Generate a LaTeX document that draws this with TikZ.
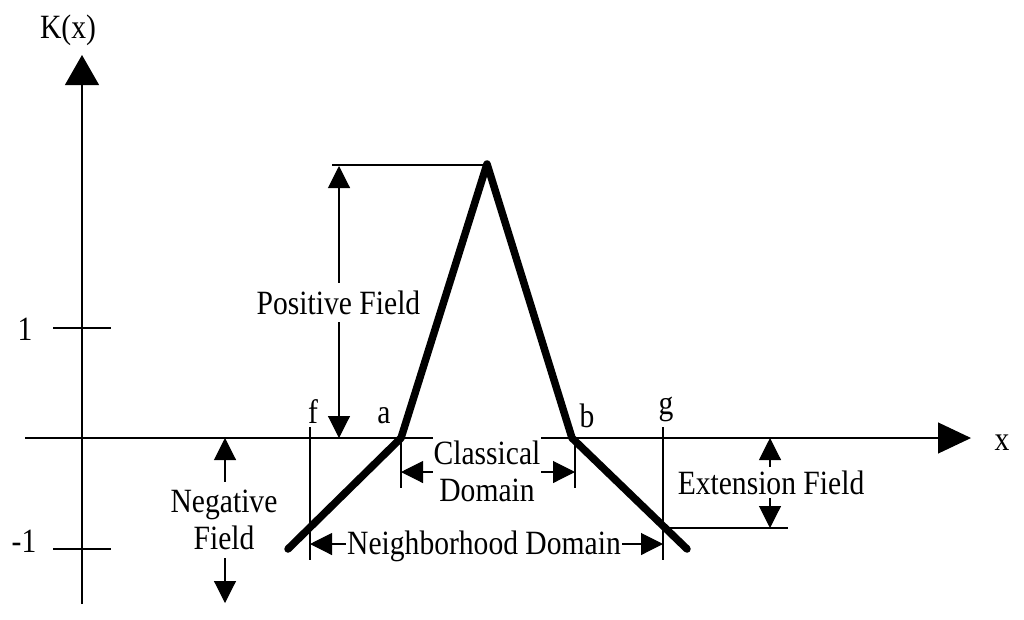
\documentclass[tikz,border=0pt]{standalone}
\usepackage{fontspec}
\setmainfont{Liberation Serif}[FakeStretch=0.87]
\usetikzlibrary{arrows.meta}
\begin{document}
\begin{tikzpicture}[x=1pt,y=-1pt,
  font=\fontsize{34}{37}\selectfont,
  ax/.style={line width=1.1pt},
  dimarrow/.style={line width=1.1pt,
    {Triangle[length=22pt,width=22pt]}-{Triangle[length=22pt,width=22pt]}},
  lab/.style={fill=white, inner xsep=1pt, inner ysep=8pt},
  curve/.style={line width=7.5pt, line cap=round, line join=round}]
\useasboundingbox (0,0) rectangle (1024,619);

% coordinates
\coordinate (yb) at (82,604);
\coordinate (yt) at (82,55);
\coordinate (xl0) at (25,438);
\coordinate (xr0) at (971,438);
\coordinate (L) at (288,549);
\coordinate (A) at (401,438);
\coordinate (P) at (487,164);
\coordinate (B) at (572,438);
\coordinate (R) at (687,549);

% axes
\draw[ax, -{Triangle[length=30pt,width=34pt]}] (yb) -- (yt);
\draw[ax, -{Triangle[length=33pt,width=31pt]}] (xl0) -- (xr0);

% ticks
\coordinate (t1a) at (53,328); \coordinate (t1b) at (111,328);
\coordinate (t2a) at (53,549); \coordinate (t2b) at (111,549);
\draw[ax] (t1a) -- (t1b);
\draw[ax] (t2a) -- (t2b);

% helper lines
\coordinate (ph0) at (332,165); \coordinate (ph1) at (487,165);
\draw[ax] (ph0) -- (ph1);
\coordinate (f0) at (310,427); \coordinate (f1) at (310,560);
\draw[ax] (f0) -- (f1);
\coordinate (g0) at (663,427); \coordinate (g1) at (663,560);
\draw[ax] (g0) -- (g1);
\coordinate (a0) at (401,438); \coordinate (a1) at (401,488);
\draw[ax] (a0) -- (a1);
\coordinate (b0) at (575,438); \coordinate (b1) at (575,488);
\draw[ax] (b0) -- (b1);
\coordinate (e0) at (670,528); \coordinate (e1) at (788,528);
\draw[ax] (e0) -- (e1);

% dimension arrows
\coordinate (pf0) at (339,166); \coordinate (pf1) at (339,438);
\draw[dimarrow] (pf0) -- (pf1);
\coordinate (nf0) at (225,438); \coordinate (nf1) at (225,603);
\draw[dimarrow] (nf0) -- (nf1);
\coordinate (ef0) at (770,438); \coordinate (ef1) at (770,528);
\draw[dimarrow] (ef0) -- (ef1);
\coordinate (nd0) at (310,544); \coordinate (nd1) at (663,544);
\draw[dimarrow] (nd0) -- (nd1);
\coordinate (cd0) at (401,472); \coordinate (cd1) at (575,472);
\draw[dimarrow] (cd0) -- (cd1);

% labels with white background
\node[lab] (pf) at (338.5,302.5) {Positive Field};
\node[lab, align=center] (nf) at (224,520) {Negative\\Field};
\node[lab, align=center] (cd) at (487,471.5) {Classical\\Domain};
\node[lab, inner ysep=4pt] (ef) at (771,482.5) {Extension Field};
\node[lab, anchor=base] (nd) at (484,554) {Neighborhood Domain};

% kernel curve
\draw[curve] (L) -- (A) -- (P) -- (B) -- (R);

% plain labels
\node[anchor=base] (kx) at (68,38) {K(x)};
\node[anchor=base] (one) at (25,340) {1};
\node[anchor=base] (mone) at (24,552) {-1};
\node[anchor=base] (fl) at (313,423) {f};
\node[anchor=base] (al) at (384,423) {a};
\node[anchor=base] (bl) at (587,427) {b};
\node[anchor=base] (gl) at (666,414) {g};
\node[anchor=base] (xl) at (1002,450) {x};
\end{tikzpicture}
\end{document}
